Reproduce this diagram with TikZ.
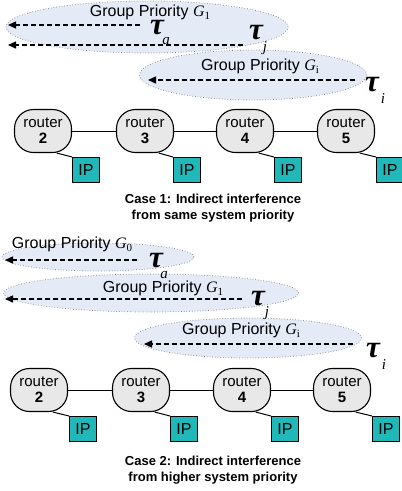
\documentclass[tikz,border=0pt]{standalone}
\usepackage{fontspec}
\setmainfont{Liberation Sans}
\newfontfamily\tfont{Liberation Serif}
\usetikzlibrary{shapes.geometric,arrows.meta}
\definecolor{ellfill}{RGB}{228,234,246}
\definecolor{ipfill}{RGB}{32,184,184}
\definecolor{rtfill}{RGB}{232,232,232}
\tikzset{
  grp/.style={ellipse,draw=gray,line width=0.7pt,dotted,fill=ellfill,inner sep=0pt},
  gtext/.style={inner sep=0pt,font=\fontsize{16}{16}\selectfont},
  flow/.style={line width=1.5pt,-{Triangle[length=8pt,width=7pt]},dash pattern=on 5pt off 3pt},
  tau/.style={inner sep=0pt,font=\tfont\bfseries\itshape\fontsize{31}{31}\selectfont},
  sub/.style={inner sep=0pt,font=\tfont\itshape\fontsize{15}{15}\selectfont},
  router/.style={draw,line width=1.1pt,rounded corners=19pt,fill=rtfill,minimum width=57pt,minimum height=43pt,align=center,font=\fontsize{15}{16}\selectfont,inner sep=0pt},
  ipbox/.style={draw,line width=1pt,fill=ipfill,minimum width=27pt,minimum height=25pt,inner sep=0pt,font=\fontsize{16}{16}\selectfont},
  link/.style={line width=1pt},
  caption/.style={align=center,font=\bfseries\fontsize{13}{16}\selectfont,inner sep=0pt}
}
\newcommand{\Gs}[1]{{\tfont\itshape G}\raisebox{-3pt}{\fontsize{11}{11}\selectfont\tfont #1}}
\begin{document}
\begin{tikzpicture}[x=1pt,y=-1pt]
\useasboundingbox (0,0) rectangle (402,491);
% ---------------- Case 1 ----------------
\node[grp,minimum width=282pt,minimum height=52pt] (e1) at (147,27) {};
\node[grp,minimum width=227pt,minimum height=50pt] (e2) at (253,75) {};
\node[gtext] (t1) at (150,12) {Group Priority \Gs{1}};
\node[gtext] (t2) at (260,66) {Group Priority \Gs{i}};
\coordinate (a1s) at (140,25); \coordinate (a1e) at (8,25);
\coordinate (a2s) at (243,45); \coordinate (a2e) at (8,45);
\coordinate (a3s) at (355,80); \coordinate (a3e) at (148,80);
\draw[flow] (a1s) -- (a1e);
\draw[flow] (a2s) -- (a2e);
\draw[flow] (a3s) -- (a3e);
\node[tau] (ta1) at (157,28) {τ};
\node[sub] (ta1s) at (166,41) {a};
\node[tau] (tj1) at (256,33) {τ};
\node[sub] (tj1s) at (265,48) {j};
\node[tau] (ti1) at (372,85) {τ};
\node[sub] (ti1s) at (383,99) {i};
\node[router] (r2) at (43,131) {router\\\textbf{2}};
\node[router] (r3) at (145,131) {router\\\textbf{3}};
\node[router] (r4) at (245,131) {router\\\textbf{4}};
\node[router] (r5) at (346,131) {router\\\textbf{5}};
\draw[link] (r2) -- (r3);
\draw[link] (r3) -- (r4);
\draw[link] (r4) -- (r5);
\node[ipbox] (i2) at (86,170) {IP};
\node[ipbox] (i3) at (187,170) {IP};
\node[ipbox] (i4) at (288,170) {IP};
\node[ipbox] (i5) at (390,170) {IP};
\foreach \r/\i in {r2/i2,r3/i3,r4/i4,r5/i5}{\draw[link] (\r.-58) -- (\i.north west);}
\node[caption] (c1) at (213,208) {Case 1: Indirect interference\\from same system priority};
% ---------------- Case 2 ----------------
\node[grp,minimum width=192pt,minimum height=28pt] (f0) at (98,257) {};
\node[grp,minimum width=295pt,minimum height=38pt] (f1) at (151,293) {};
\node[grp,minimum width=227pt,minimum height=40pt] (f2) at (248,338) {};
\node[gtext] (u0) at (72,244) {Group Priority \Gs{0}};
\node[gtext] (u1) at (163,288) {Group Priority \Gs{1}};
\node[gtext] (u2) at (241,330) {Group Priority \Gs{i}};
\coordinate (b1s) at (137,260); \coordinate (b1e) at (5,260);
\coordinate (b2s) at (242,299); \coordinate (b2e) at (5,299);
\coordinate (b3s) at (353,344); \coordinate (b3e) at (144,344);
\draw[flow] (b1s) -- (b1e);
\draw[flow] (b2s) -- (b2e);
\draw[flow] (b3s) -- (b3e);
\node[tau] (ta2) at (156,261) {τ};
\node[sub] (ta2s) at (164,275) {a};
\node[tau] (tj2) at (258,299) {τ};
\node[sub] (tj2s) at (267,313) {j};
\node[tau] (ti2) at (373,351) {τ};
\node[sub] (ti2s) at (384,365) {i};
\node[router] (s2) at (39,390) {router\\\textbf{2}};
\node[router] (s3) at (141,390) {router\\\textbf{3}};
\node[router] (s4) at (242,390) {router\\\textbf{4}};
\node[router] (s5) at (342,390) {router\\\textbf{5}};
\draw[link] (s2) -- (s3);
\draw[link] (s3) -- (s4);
\draw[link] (s4) -- (s5);
\node[ipbox] (j2) at (83,429) {IP};
\node[ipbox] (j3) at (184,429) {IP};
\node[ipbox] (j4) at (285,429) {IP};
\node[ipbox] (j5) at (386,429) {IP};
\foreach \r/\i in {s2/j2,s3/j3,s4/j4,s5/j5}{\draw[link] (\r.-58) -- (\i.north west);}
\node[caption] (c2) at (213,470) {Case 2: Indirect interference\\from higher system priority};
\end{tikzpicture}
\end{document}
